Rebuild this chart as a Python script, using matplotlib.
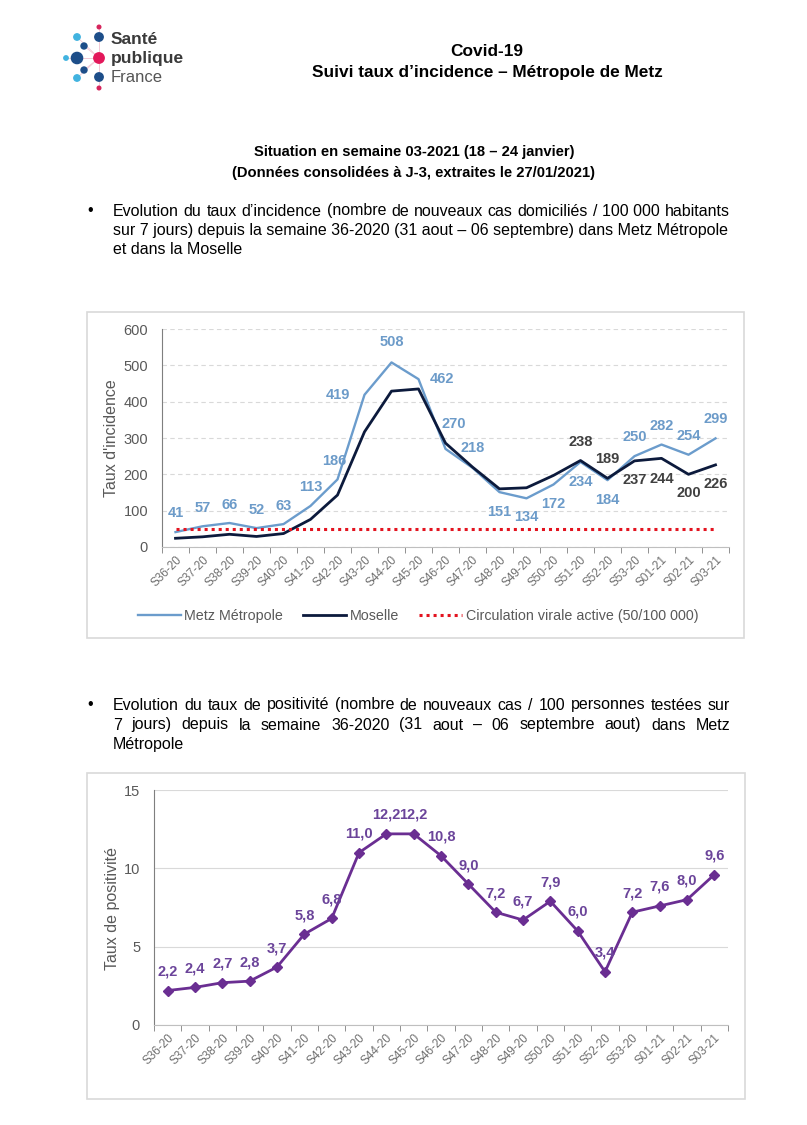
import matplotlib
matplotlib.use('Agg')
import matplotlib.pyplot as plt
from matplotlib.patches import Rectangle, Circle
import numpy as np

plt.rcParams['font.family'] = ['Liberation Sans', 'DejaVu Sans']

# ---------------- data ----------------
weeks = ['S36-20', 'S37-20', 'S38-20', 'S39-20', 'S40-20', 'S41-20', 'S42-20',
         'S43-20', 'S44-20', 'S45-20', 'S46-20', 'S47-20', 'S48-20', 'S49-20',
         'S50-20', 'S51-20', 'S52-20', 'S53-20', 'S01-21', 'S02-21', 'S03-21']
metz = [41, 57, 66, 52, 63, 113, 186, 419, 508, 462, 270, 218, 151, 134, 172,
        234, 184, 250, 282, 254, 299]
moselle = [24, 28, 35, 29, 37, 76, 143, 317, 429, 435, 286, 220, 160, 163, 197,
           238, 189, 237, 244, 200, 226]
moselle_labelled = [238, 189, 237, 244, 200, 226]   # last 6 weeks labelled
threshold = 50
positivite = [2.2, 2.4, 2.7, 2.8, 3.7, 5.8, 6.8, 11.0, 12.2, 12.2, 10.8, 9.0,
              7.2, 6.7, 7.9, 6.0, 3.4, 7.2, 7.6, 8.0, 9.6]
inc_ticks = [0, 100, 200, 300, 400, 500, 600]
pos_ticks = [0, 5, 10, 15]

# label offsets (pixels) - style only
metz_off = [(0, 19), (0, 18), (0, 18), (0, 18), (0, 18), (0, 19), (-3, 18),
            (-27, 0), (0, 20), (24, 0), (8, 25), (0, 20), (0, -20), (0, -19),
            (0, -19), (0, -20), (0, -20), (0, 19), (0, 19), (0, 19), (0, 19)]
mos_off = [(0, 19), (0, 19), (0, -19), (0, -21), (0, -19), (0, -19)]

METZ = '#6b9ccc'
METZ_LBL = '#6c9bc9'
MOS = '#0c1a3c'
MOS_LBL = '#404040'
RED = '#e3131f'
PURPLE = '#6a2e92'
PURPLE_LBL = '#6b449a'
GRAY = '#595959'

W, H = 807, 1125
fig = plt.figure(figsize=(W / 100, H / 100), dpi=100)
bg = fig.add_axes([0, 0, 1, 1])
bg.set_xlim(0, W)
bg.set_ylim(H, 0)
bg.axis('off')
renderer = fig.canvas.get_renderer()


def fax(x0, y0, x1, y1):
    return fig.add_axes([x0 / W, 1 - y1 / H, (x1 - x0) / W, (y1 - y0) / H])


def text_width(s, size, **kw):
    t = bg.text(0, 0, s, fontsize=size, **kw)
    w = t.get_window_extent(renderer).width
    t.remove()
    return w


# ---------------- logo ----------------
dots = [(99, 27, 1.8, '#d6245c'), (99, 37, 4.2, '#1d4e89'), (77, 37, 3.2, '#41b3e0'),
        (84, 46, 3.0, '#1d4e89'), (66, 58, 2.2, '#41b3e0'), (77, 58, 5.6, '#1d4e89'),
        (99, 58, 5.2, '#e3175a'), (84, 70, 3.0, '#1d4e89'), (77, 78, 3.2, '#41b3e0'),
        (99, 77, 4.2, '#1d4e89'), (99, 88, 1.8, '#d6245c')]
for (cx, cy, r, c) in dots:
    if (cx, cy) != (99, 58):
        bg.plot([99, cx], [58, cy], color='#f2c9d6', lw=0.6, zorder=1)
for (cx, cy, r, c) in dots:
    bg.add_patch(Circle((cx, cy), r, color=c, zorder=2))
bg.text(111, 40, 'Santé', fontsize=12.5, fontweight='bold', color='#3a3a3a', va='center', ha='left')
bg.text(111, 58, 'publique', fontsize=12.5, fontweight='bold', color='#3a3a3a', va='center', ha='left')
bg.text(111, 77, 'France', fontsize=12, color='#555555', va='center', ha='left')

# ---------------- header ----------------
bg.text(487, 52, 'Covid-19', fontsize=12.4, fontweight='bold', ha='center', va='center')
bg.text(487, 73, 'Suivi taux d\u2019incidence \u2013 Métropole de Metz', fontsize=12.4,
        fontweight='bold', ha='center', va='center')
bg.text(414, 152, 'Situation en semaine 03-2021 (18 \u2013 24 janvier)', fontsize=10.6,
        fontweight='bold', ha='center', va='center')
bg.text(414, 173, '(Données consolidées à J-3, extraites le 27/01/2021)', fontsize=10.6,
        fontweight='bold', ha='center', va='center')

para1 = ['Evolution du taux d\u2019incidence (nombre de nouveaux cas domiciliés / 100\u00a0000 habitants',
         'sur 7 jours) depuis la semaine 36-2020 (31 aout \u2013 06 septembre) dans Metz Métropole',
         'et dans la Moselle']
para2 = ['Evolution du taux de positivité (nombre de nouveaux cas / 100 personnes testées sur',
         '7 jours) depuis la semaine 36-2020 (31 aout \u2013 06 septembre aout) dans Metz',
         'Métropole']

X0, X1 = 113, 730
# body font size: first line of paragraph 1 fills the text width at natural spacing
BODY = 10 * (X1 - X0) / text_width(para1[0], 10)


def justified(lines, x0, x1, y0, dy, size):
    for i, line in enumerate(lines):
        y = y0 + i * dy
        natural = text_width(line, size)
        if i == len(lines) - 1 or abs(x1 - x0 - natural) < 4:
            bg.text(x0, y, line, fontsize=size, va='center', ha='left')
            continue
        words = line.split(' ')
        extra = (x1 - x0 - natural) / (len(words) - 1)
        pos = 0
        for k, w in enumerate(words):
            end = pos + len(w)
            start = text_width(line[:end], size) - text_width(w, size)
            bg.text(x0 + start + k * extra, y, w, fontsize=size, va='center', ha='left')
            pos = end + 1


bg.text(87, 211, '\u2022', fontsize=BODY, va='center', ha='left')
justified(para1, X0, X1, 211, 19.5, BODY)
bg.text(87, 705, '\u2022', fontsize=BODY, va='center', ha='left')
justified(para2, X0, X1, 705, 20, BODY)

# chart frames
bg.add_patch(Rectangle((87, 312), 657, 326, fill=False, edgecolor='#d9d9d9', lw=1.2))
bg.add_patch(Rectangle((87, 773), 658, 326, fill=False, edgecolor='#d9d9d9', lw=1.2))

x = np.arange(len(weeks))


def style_axes(ax, yticks, grid_ls):
    ax.set_xlim(-0.5, len(weeks) - 0.5)
    ax.set_yticks(yticks)
    ax.yaxis.grid(True, color='#d9d9d9', linestyle=grid_ls, lw=0.8)
    ax.set_axisbelow(True)
    for s in ['top', 'right']:
        ax.spines[s].set_visible(False)
    ax.spines['left'].set_color('#7f7f7f')
    ax.spines['bottom'].set_color('#bfbfbf')
    ax.set_xticks(x)
    ax.set_xticklabels(weeks, rotation=45, ha='right', rotation_mode='anchor',
                       fontsize=8.5, color='#6f6f6f')
    ax.set_xticks(np.arange(-0.5, len(weeks), 1), minor=True)
    ax.tick_params(axis='x', which='major', length=0, pad=5)
    ax.tick_params(axis='x', which='minor', length=4, color='#7f7f7f')
    ax.tick_params(axis='y', length=0, pad=10, labelsize=10.5, labelcolor=GRAY)
    ax.patch.set_alpha(0)


# ---------------- chart 1 ----------------
ax1 = fax(162, 329, 729, 547)
l1, = ax1.plot(x, metz, color=METZ, lw=1.7, label='Metz Métropole')
l2, = ax1.plot(x, moselle, color=MOS, lw=2.0, label='Moselle')
l3, = ax1.plot(x, [threshold] * len(weeks), color=RED, lw=2.2, linestyle=(0, (1, 1.3)),
               label='Circulation virale active (50/100 000)')
ax1.set_ylim(0, 600)
style_axes(ax1, inc_ticks, (0, (4, 3)))
for xi, v, (dx, dy) in zip(x, metz, metz_off):
    ax1.annotate(f'{v}', (xi, v), xytext=(dx, dy), textcoords='offset pixels',
                 ha='center', va='center', fontsize=10.5, fontweight='bold', color=METZ_LBL)
n0 = len(weeks) - len(moselle_labelled)
for xi, v, (dx, dy) in zip(x[n0:], moselle_labelled, mos_off):
    ax1.annotate(f'{v}', (xi, v), xytext=(dx, dy), textcoords='offset pixels',
                 ha='center', va='center', fontsize=10.5, fontweight='bold', color=MOS_LBL)
bg.text(112, 438, "Taux d'incidence", rotation=90, ha='center', va='center',
        fontsize=11.5, color=GRAY)
fig.legend(handles=[l1, l2, l3], loc='center', bbox_to_anchor=(418 / W, 1 - 616 / H),
           ncol=3, frameon=False, fontsize=10.3, handlelength=3.0, columnspacing=1.4,
           handletextpad=0.25, labelcolor=GRAY)

# ---------------- chart 2 ----------------
ax2 = fax(154, 790, 728, 1025)
ax2.plot(x, positivite, color=PURPLE, lw=2.0, marker='D', markersize=5)
ax2.set_ylim(0, 15)
style_axes(ax2, pos_ticks, '-')
for xi, v in zip(x, positivite):
    ax2.annotate(f'{v:.1f}'.replace('.', ','), (xi, v), xytext=(0, 19),
                 textcoords='offset pixels', ha='center', va='center', fontsize=10.5,
                 fontweight='bold', color=PURPLE_LBL)
bg.text(112, 908, 'Taux de positivité', rotation=90, ha='center', va='center',
        fontsize=11.5, color=GRAY)

fig.savefig('out.png', dpi=100)
